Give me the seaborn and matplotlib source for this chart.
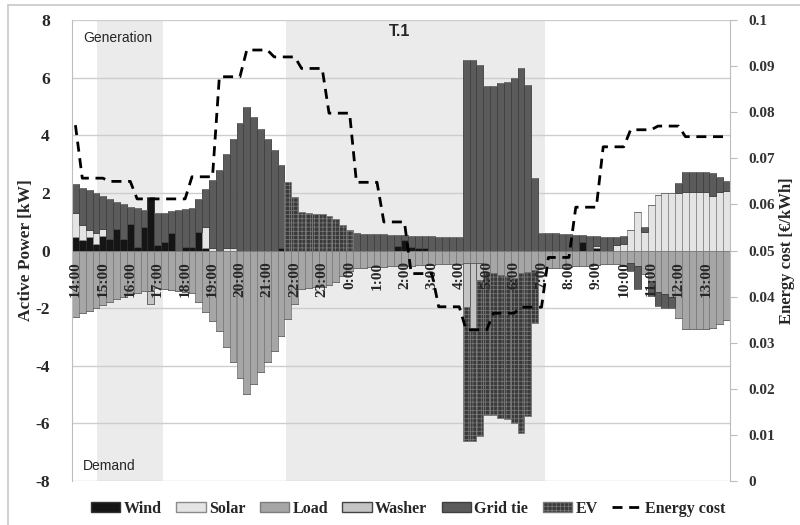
import numpy as np
import pandas as pd
import matplotlib
matplotlib.use("Agg")
import matplotlib.pyplot as plt
from matplotlib.patches import Patch
from matplotlib.lines import Line2D
from matplotlib.font_manager import FontProperties
import seaborn as sns

# 15-minute slots from 14:00 to 13:45 of the next day
hour_labels = ["14:00", "15:00", "16:00", "17:00", "18:00", "19:00", "20:00",
               "21:00", "22:00", "23:00", "0:00", "1:00", "2:00", "3:00",
               "4:00", "5:00", "6:00", "7:00", "8:00", "9:00", "10:00",
               "11:00", "12:00", "13:00"]

# Generation side [kW]
wind = [0.47, 0.36, 0.46, 0.24, 0.50, 0.39, 0.75, 0.40, 0.92, 0.12,
        0.82, 1.86, 0.19, 0.30, 0.60, 0.00, 0.12, 0.13, 0.65, 0.10,
        0, 0, 0, 0, 0, 0, 0, 0, 0, 0,
        0.08, 0, 0, 0, 0, 0, 0, 0, 0, 0,
        0, 0, 0, 0, 0, 0, 0, 0.15, 0.35, 0.12,
        0.10, 0.10, 0, 0, 0, 0, 0, 0, 0, 0,
        0, 0, 0, 0, 0, 0, 0, 0, 0, 0,
        0, 0, 0, 0, 0.30, 0, 0.10, 0, 0, 0,
        0, 0, 0, 0, 0, 0, 0, 0, 0, 0,
        0, 0, 0, 0, 0, 0]
solar = [0.83, 0.52, 0.25, 0.36, 0.25, 0, 0, 0, 0, 0,
         0, 0, 0, 0, 0, 0, 0, 0, 0, 0.72,
         0.10, 0, 0.10, 0.08, 0, 0, 0, 0, 0, 0,
         0, 0, 0, 0, 0, 0, 0, 0, 0, 0,
         0, 0, 0, 0, 0, 0, 0, 0, 0, 0,
         0, 0, 0, 0, 0, 0, 0, 0, 0, 0,
         0, 0, 0, 0, 0, 0, 0, 0, 0, 0,
         0, 0, 0, 0, 0, 0, 0.05, 0, 0, 0.19,
         0.22, 0.71, 1.34, 0.65, 1.58, 1.93, 1.98, 2.00, 2.00, 2.02,
         2.02, 2.02, 2.02, 1.90, 2.03, 2.05]
grid_gen = [1.01, 1.29, 1.39, 1.40, 1.15, 1.40, 0.93, 1.20, 0.60, 1.34,
            0.60, 0, 1.11, 1.02, 0.76, 1.40, 1.33, 1.34, 1.13, 1.30,
            2.35, 2.78, 3.24, 3.80, 4.42, 4.97, 4.62, 4.22, 3.86, 3.50,
            2.89, 0, 0, 0, 0, 0, 0, 0, 0, 0,
            0, 0.60, 0.59, 0.58, 0.57, 0.56, 0.55, 0.39, 0.18, 0.40,
            0.41, 0.40, 0.49, 0.48, 0.48, 0.47, 0.47, 6.61, 6.61, 6.44,
            5.71, 5.71, 5.80, 5.86, 5.98, 6.33, 5.75, 2.53, 0.62, 0.61,
            0.60, 0.59, 0.57, 0.55, 0.24, 0.52, 0.35, 0.48, 0.47, 0.27,
            0.28, 0, 0, 0.18, 0, 0, 0, 0, 0.35, 0.72,
            0.72, 0.72, 0.70, 0.80, 0.53, 0.37]
ev_gen = [0] * 31 + [2.39, 1.85, 1.33, 1.30, 1.28, 1.26, 1.20, 1.08, 0.88, 0.71] + [0] * 55

# Demand side [kW] (magnitudes, drawn below zero)
load = [2.31, 2.17, 2.10, 2.00, 1.90, 1.79, 1.68, 1.60, 1.52, 1.46,
        1.42, 1.42, 1.30, 1.32, 1.36, 1.40, 1.45, 1.47, 1.78, 2.12,
        2.45, 2.78, 3.34, 3.88, 4.42, 4.97, 4.62, 4.22, 3.86, 3.50,
        2.97, 2.39, 1.85, 1.33, 1.30, 1.28, 1.26, 1.20, 1.08, 0.88,
        0.71, 0.60, 0.59, 0.58, 0.57, 0.56, 0.55, 0.54, 0.53, 0.52,
        0.51, 0.50, 0.49, 0.48, 0.48, 0.47, 0.47, 0.45, 0.45, 0.45,
        0.73, 0.77, 0.85, 0.90, 0.96, 0.77, 0.73, 0.68, 0.62, 0.61,
        0.60, 0.59, 0.57, 0.55, 0.54, 0.52, 0.50, 0.48, 0.47, 0.46,
        0.50, 0.45, 0.55, 0.83, 1.05, 1.45, 1.50, 1.60, 2.35, 2.74,
        2.74, 2.74, 2.72, 2.70, 2.56, 2.42]
washer = [0] * 11 + [0.44] + [0] * 45 + [1.50, 2.25, 0.57] + [0] * 36
grid_dem = [0] * 81 + [0.26, 0.79, 0, 0.53, 0.48, 0.48, 0.40] + [0] * 8
ev_dem = [0] * 57 + [4.66, 3.91, 5.42, 4.98, 4.94, 4.95, 4.96, 5.02, 5.56, 5.02, 1.85] + [0] * 28

# Energy cost [EUR/kWh]
energy_cost = ([0.0772] + [0.0657] * 4 + [0.0650] * 4 + [0.0612] * 8 + [0.0660] * 4
               + [0.0877] * 4 + [0.0935] * 4 + [0.0920] * 4 + [0.0895] * 4
               + [0.0798] * 4 + [0.0648] * 4 + [0.0562] * 4 + [0.0450] * 4
               + [0.0378] * 4 + [0.0328] * 4 + [0.0364] * 4 + [0.0377] * 4
               + [0.0485] * 4 + [0.0594] * 4 + [0.0725] * 4 + [0.0762] * 4
               + [0.0770] * 4 + [0.0747] * 7)

n = len(load)
slots = np.arange(n)
df = pd.DataFrame({"slot": slots, "wind": wind, "solar": solar, "grid_gen": grid_gen,
                   "ev_gen": ev_gen, "load": load, "washer": washer,
                   "grid_dem": grid_dem, "ev_dem": ev_dem, "cost": energy_cost})

SERIF = "Liberation Serif"
SANS = "Liberation Sans"

C_WIND = "#151515"
C_SOLAR = "#e4e4e4"
C_LOAD = "#a6a6a6"
C_WASHER = "#c4c4c4"
C_GRID = "#5b5b5b"
C_EV = "#3a3a3a"

sns.set_style("white")
plt.rcParams["hatch.linewidth"] = 0.5

fig = plt.figure(figsize=(8, 5.25), dpi=100)
ax = fig.add_axes([0.09, 0.0838, 0.8225, 0.878])

# shaded periods
for a, b in [(3.1, 12.8), (30.7, 68.5)]:
    ax.axvspan(a, b, color="#ebebeb", zorder=0.1, lw=0)

# stacked generation bars
bottom = np.zeros(n)
for col, fc, ec, hatch in [("wind", C_WIND, "#2a2a2a", None),
                           ("solar", C_SOLAR, "#8a8a8a", None),
                           ("grid_gen", C_GRID, "#3f3f3f", None),
                           ("ev_gen", C_EV, "#7a7a7a", "++++")]:
    vals = df[col].to_numpy(dtype=float)
    sns.barplot(data=df, x="slot", y=col, ax=ax, bottom=bottom, width=1.0,
                color=fc, saturation=1, errorbar=None, edgecolor=ec,
                linewidth=0.6, hatch=hatch, zorder=2)
    bottom = bottom + vals

# stacked demand bars (drawn below zero)
bottom = np.zeros(n)
for col, fc, ec, hatch in [("load", C_LOAD, "#7c7c7c", None),
                           ("washer", C_WASHER, "#555555", None),
                           ("grid_dem", C_GRID, "#3f3f3f", None),
                           ("ev_dem", C_EV, "#7a7a7a", "++++")]:
    vals = df[col].to_numpy(dtype=float)
    neg = df.assign(v=-vals)
    sns.barplot(data=neg, x="slot", y="v", ax=ax, bottom=bottom, width=1.0,
                color=fc, saturation=1, errorbar=None, edgecolor=ec,
                linewidth=0.6, hatch=hatch, zorder=2)
    bottom = bottom - vals

ax.set_xlim(-0.5, n - 0.5)
ax.set_ylim(-8, 8)
ax.set_yticks(np.arange(-8, 9, 2))
ax.set_yticklabels([str(v) for v in range(-8, 9, 2)], fontfamily=SERIF,
                   fontweight="bold", fontsize=12.5)
ax.set_xticks([])
ax.set_xlabel("")
ax.set_ylabel("Active Power [kW]", fontfamily=SERIF, fontweight="bold",
              fontsize=12.5, labelpad=1)
ax.yaxis.grid(True, color="#cdcdcd", lw=1)
ax.set_axisbelow(True)
ax.tick_params(axis="y", length=0, pad=16)
for side in ["top", "bottom"]:
    ax.spines[side].set_visible(False)
ax.spines["left"].set_color("#bdbdbd")
ax.spines["right"].set_visible(False)

# hour labels along the zero line
for k, lab in enumerate(hour_labels):
    ax.text(4 * k, -0.38, lab, rotation=90, ha="center", va="top",
            fontfamily=SERIF, fontweight="bold", fontsize=11, zorder=6)

ax.text(1.1, 7.38, "Generation", fontfamily=SANS, fontsize=10,
        va="center", ha="left")
ax.text(1.1, -7.48, "Demand", fontfamily=SANS, fontsize=10, va="center", ha="left")
ax.text(47.3, 7.62, "T.1", fontfamily=SANS, fontweight="bold", fontsize=11.5,
        va="center", ha="center")

# energy cost on the secondary axis
ax2 = ax.twinx()
sns.lineplot(data=df, x="slot", y="cost", ax=ax2, color="black", lw=2.0,
             dashes=False, zorder=5)
ax2.lines[-1].set_dashes((3.6, 2.4))
ax2.set_ylim(0, 0.1)
ax2.set_xlim(-0.5, n - 0.5)
cost_ticks = np.round(np.arange(0, 0.101, 0.01), 2)
ax2.set_yticks(cost_ticks)
ax2.set_yticklabels(["0"] + [f"{v:.2f}" for v in cost_ticks[1:-1]] + ["0.1"],
                    fontfamily=SERIF, fontweight="bold", fontsize=11, color="#333333")
ax2.tick_params(axis="y", length=5, color="#bdbdbd", pad=8)
ax2.set_ylabel("Energy cost [€/kWh]", fontfamily=SERIF, fontweight="bold",
               fontsize=12, labelpad=3)
for side in ["top", "bottom", "left"]:
    ax2.spines[side].set_visible(False)
ax2.spines["right"].set_color("#bdbdbd")
ax2.grid(False)

# legend
handles = [Patch(facecolor=C_WIND, edgecolor="#333333"),
           Patch(facecolor=C_SOLAR, edgecolor="#8a8a8a"),
           Patch(facecolor=C_LOAD, edgecolor="#7c7c7c"),
           Patch(facecolor=C_WASHER, edgecolor="#444444"),
           Patch(facecolor=C_GRID, edgecolor="#3f3f3f"),
           Patch(facecolor=C_EV, edgecolor="#7a7a7a", hatch="++++"),
           Line2D([0], [0], color="black", lw=2.0, dashes=(3.6, 2.4))]
labels = ["Wind", "Solar", "Load", "Washer", "Grid tie", "EV", "Energy cost"]
fig.legend(handles, labels, loc="center", bbox_to_anchor=(0.51, 0.031), ncol=7,
           frameon=False, prop=FontProperties(family=SERIF, weight="bold", size=11.5),
           handlelength=1.85, handleheight=0.55, columnspacing=0.9, handletextpad=0.2)

# outer frame
fig.add_artist(Line2D([8 / 800, 8 / 800], [0, 1 - 5 / 525], transform=fig.transFigure,
                      color="#c8c8c8", lw=1.2))
fig.add_artist(Line2D([8 / 800, 1], [1 - 5 / 525, 1 - 5 / 525], transform=fig.transFigure,
                      color="#c8c8c8", lw=1.2))

fig.savefig("out.png", dpi=100)
